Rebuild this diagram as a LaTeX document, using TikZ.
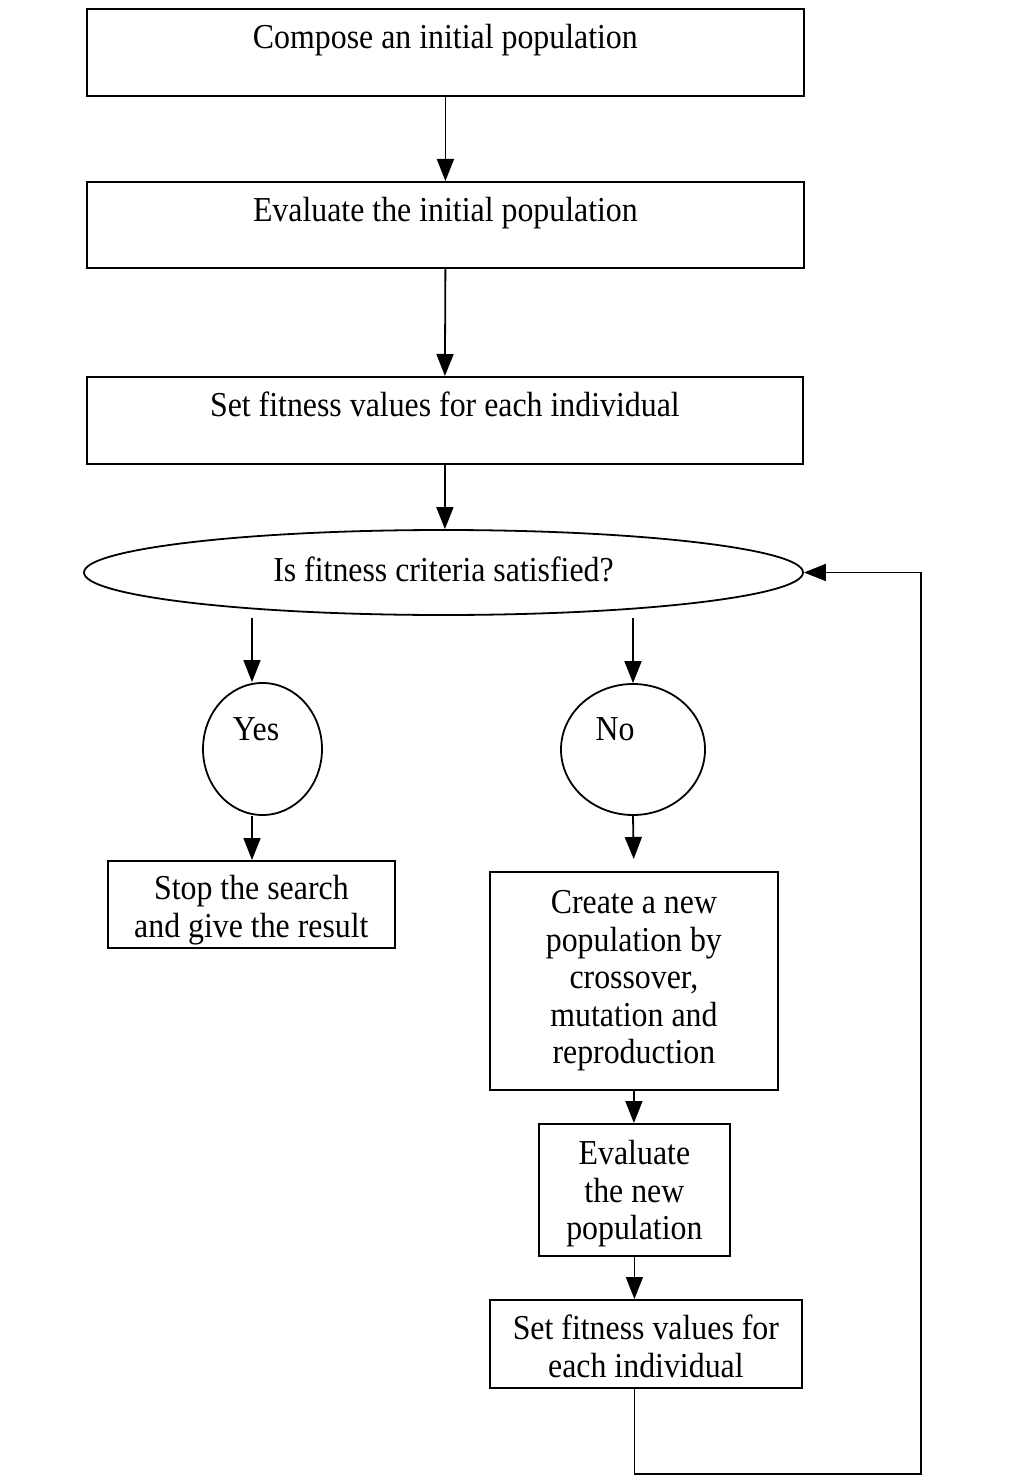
\documentclass[tikz,border=0pt]{standalone}
\usepackage{fontspec}
\setmainfont[FakeStretch=0.91]{Liberation Serif}
\usetikzlibrary{arrows.meta,shapes.geometric}
\newcommand\diagfont{\fontsize{17.5}{18.75}\selectfont}
\begin{document}
\begin{tikzpicture}[x=0.5pt,y=-0.5pt,
  every node/.style={font=\diagfont},
  conn/.style={line width=0.9pt,-{Triangle[length=11pt,width=8.5pt]}},
  topbox/.style={draw,line width=0.9pt,inner sep=0pt,anchor=north west,text height=20pt},
  box/.style={draw,line width=0.9pt,inner sep=0pt,align=center,anchor=north west},
  oval/.style={draw,line width=0.9pt,ellipse,inner sep=0pt},
  lbl/.style={inner sep=0pt,anchor=base}
]
\fill[white] (0,0) rectangle (1015,1476);
\useasboundingbox (0,0) rectangle (1015,1476);

\node[topbox,minimum width=358.5pt,text depth=23.5pt] (b1) at (86,8) {Compose an initial population};
\node[topbox,minimum width=358.5pt,text depth=23pt] (b2) at (86,181) {Evaluate the initial population};
\node[topbox,minimum width=358pt,text depth=23.5pt] (b3) at (86,376) {Set fitness values for each individual};

\node[oval,minimum width=359.5pt,minimum height=42.5pt,text depth=3pt] (crit) at (443.5,572.5) {Is fitness criteria satisfied?};

\node[oval,minimum width=59.5pt,minimum height=66pt] (yes) at (262.5,749) {};
\node[lbl] (yestxt) at (256,740) {Yes};
\node[oval,minimum width=72pt,minimum height=65.5pt] (no) at (633,749.5) {};
\node[lbl] (notxt) at (615,740) {No};

\node[box,minimum width=143.5pt,minimum height=43.5pt] (stop) at (107,860) {\rule{0pt}{18pt}Stop the search\\and give the result};
\node[box,minimum width=144pt,minimum height=109pt] (create) at (489,871) {Create a new\\population by\\crossover,\\mutation and\\reproduction};
\node[box,minimum width=95.5pt,minimum height=66pt] (evalnew) at (538,1123) {\rule{0pt}{16pt}Evaluate\\the new\\population};
\node[box,minimum width=156pt,minimum height=44pt] (fit2) at (489,1299) {\rule{0pt}{15pt}Set fitness values for\\each individual};

\coordinate (ya) at (252,618);
\coordinate (na) at (633,618);
\coordinate (fb) at (921,1474);

\draw[conn] (b1.south) -- (b2.north);
\draw[conn] (b2.south) -- (b3.north);
\draw[conn] (b3.south) -- (b3.south |- crit.north);
\draw[conn] (ya) -- (ya |- yes.north);
\draw[conn] (ya |- yes.south) -- (ya |- stop.north);
\draw[conn] (na) -- (no.north);
\draw[conn,shorten >=6pt] (no.south) -- (create.north);
\draw[conn] (create.south) -- (create.south |- evalnew.north);
\draw[conn] (evalnew.south) -- (evalnew.south |- fit2.north);
\draw[conn] (evalnew.south |- fit2.south) |- (fb) |- (crit.east);
\end{tikzpicture}
\end{document}
